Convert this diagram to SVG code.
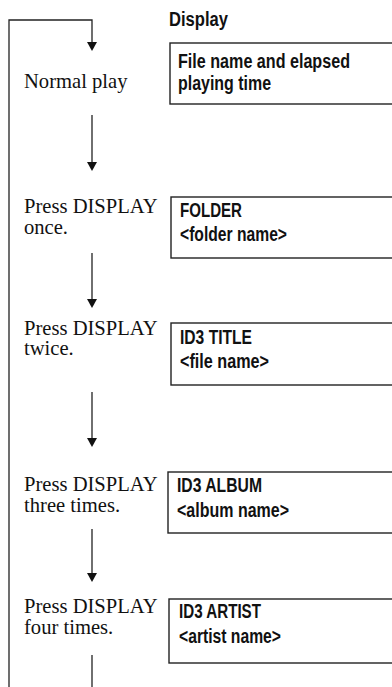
<svg xmlns="http://www.w3.org/2000/svg" width="392" height="687" viewBox="0 0 392 687">
<style>
.lbl{font-family:"Liberation Serif","Times New Roman",serif;font-size:20.6px;fill:#111}
.disp{font-family:"Liberation Sans Narrow","Arial Narrow","Liberation Sans",sans-serif;font-weight:bold;font-size:19.5px;fill:#111}
.box{fill:#fff;stroke:#222;stroke-width:1.4}
.conn{fill:none;stroke:#222;stroke-width:1.3}
.ah{fill:#111}
</style>
<rect width="392" height="687" fill="#fff"/>
<g id="connectors">
<path class="conn" d="M9,687 V20 H92 V43"/>
<path class="ah" d="M87,42 L97,42 L92,51 Z"/>
<path class="conn" d="M92,115 V163"/>
<path class="ah" d="M87,162 L97,162 L92,171 Z"/>
<path class="conn" d="M92,253 V300"/>
<path class="ah" d="M87,299 L97,299 L92,308 Z"/>
<path class="conn" d="M92,392 V439"/>
<path class="ah" d="M87,438 L97,438 L92,447 Z"/>
<path class="conn" d="M92,529 V574"/>
<path class="ah" d="M87,573 L97,573 L92,582 Z"/>
<path class="conn" d="M92,655 V687"/>
</g>
<g id="header"><text class="disp" x="169" y="26" textLength="59" lengthAdjust="spacingAndGlyphs">Display</text></g>
<g id="normal">
<text class="lbl" x="24" y="88">Normal play</text>
<rect class="box" x="170" y="43" width="230" height="61"/>
<text class="disp" x="178" y="68" textLength="172" lengthAdjust="spacingAndGlyphs">File name and elapsed</text>
<text class="disp" x="178" y="90" textLength="93" lengthAdjust="spacingAndGlyphs">playing time</text>
</g>
<g id="once">
<text class="lbl" x="24" y="213">Press DISPLAY</text>
<text class="lbl" x="24" y="234">once.</text>
<rect class="box" x="171" y="197" width="230" height="61"/>
<text class="disp" x="180" y="217" textLength="62" lengthAdjust="spacingAndGlyphs">FOLDER</text>
<text class="disp" x="180" y="241" textLength="107" lengthAdjust="spacingAndGlyphs">&lt;folder name&gt;</text>
</g>
<g id="twice">
<text class="lbl" x="24" y="335">Press DISPLAY</text>
<text class="lbl" x="24" y="355">twice.</text>
<rect class="box" x="171" y="323" width="230" height="62"/>
<text class="disp" x="180" y="344" textLength="72" lengthAdjust="spacingAndGlyphs">ID3 TITLE</text>
<text class="disp" x="180" y="368" textLength="89" lengthAdjust="spacingAndGlyphs">&lt;file name&gt;</text>
</g>
<g id="three">
<text class="lbl" x="24" y="491">Press DISPLAY</text>
<text class="lbl" x="24" y="512">three times.</text>
<rect class="box" x="168" y="472" width="230" height="61"/>
<text class="disp" x="177" y="492" textLength="85" lengthAdjust="spacingAndGlyphs">ID3 ALBUM</text>
<text class="disp" x="177" y="517" textLength="112" lengthAdjust="spacingAndGlyphs">&lt;album name&gt;</text>
</g>
<g id="four">
<text class="lbl" x="24" y="613">Press DISPLAY</text>
<text class="lbl" x="24" y="634">four times.</text>
<rect class="box" x="169" y="599" width="230" height="64"/>
<text class="disp" x="179" y="618" textLength="82" lengthAdjust="spacingAndGlyphs">ID3 ARTIST</text>
<text class="disp" x="179" y="643" textLength="102" lengthAdjust="spacingAndGlyphs">&lt;artist name&gt;</text>
</g>
</svg>
